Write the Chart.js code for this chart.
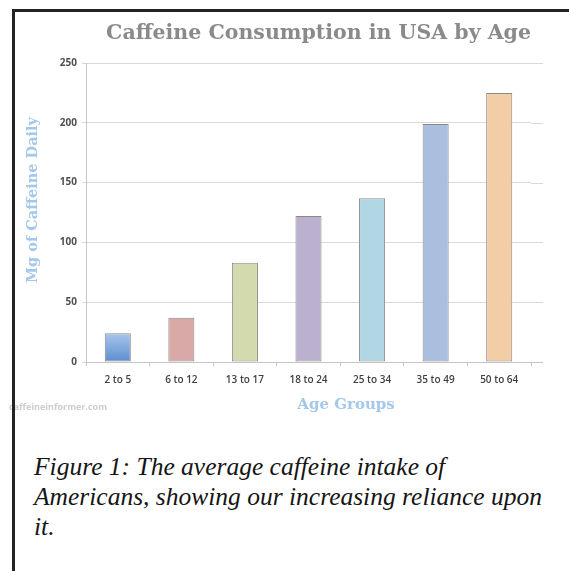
<!DOCTYPE html>
<html>
<head>
<meta charset="utf-8">
<script src="https://cdn.jsdelivr.net/npm/chart.js@4/dist/chart.umd.min.js"></script>
<style>
  html, body { margin: 0; padding: 0; background: #fff; width: 569px; height: 571px; overflow: hidden; }
  #wrap { position: relative; width: 569px; height: 571px; }
  #chart { position: absolute; left: 0; top: 0; }
  .rule { position: absolute; background: #232323; z-index: 2; }
  #caption {
    position: absolute; left: 34px; top: 452px;
    font-family: "Liberation Serif", "Times New Roman", serif;
    font-style: italic; font-size: 25.5px; line-height: 30px; color: #151515;
    white-space: nowrap;
  }
</style>
</head>
<body>
<div id="wrap">
  <canvas id="chart" width="569" height="420"></canvas>
  <div class="rule" style="left:12px; top:9px; width:3px; height:562px;"></div>
  <div class="rule" style="left:12px; top:9px; width:557px; height:3px;"></div>
  <div id="caption">Figure 1: The average caffeine intake of<br>Americans, showing our increasing reliance upon<br>it.</div>
</div>
<script>
// Age groups and average daily caffeine intake (mg)
const ageGroups = ['2 to 5', '6 to 12', '13 to 17', '18 to 24', '25 to 34', '35 to 49', '50 to 64'];
const caffeineMg = [24, 37, 83, 122, 137, 199, 225];
const yTickMax = 250;
const yTickStep = 50;

const barFills = ['#7fa6dc', '#d9a9a7', '#d3dbae', '#bbb1cf', '#b1d7e5', '#aabfdf', '#f3cda6'];

const slab = '"DejaVu Serif", serif';
const sans = '"Open Sans", "Liberation Sans", sans-serif';

// First bar is shaded light-to-dark blue from top to base
function barFill(ctx) {
  const i = ctx.dataIndex;
  const chart = ctx.chart;
  if (i === 0 && chart.chartArea && chart.scales.y) {
    const y = chart.scales.y;
    const g = chart.ctx.createLinearGradient(0, y.getPixelForValue(caffeineMg[0]), 0, y.getPixelForValue(0));
    g.addColorStop(0, '#a9c5ea');
    g.addColorStop(1, '#5a8ed0');
    return g;
  }
  return barFills[i];
}

// Gridlines continue a little past the last category; axis captions and site credit
const decorations = {
  id: 'decorations',
  beforeDatasetsDraw(chart) {
    const { ctx, chartArea, scales } = chart;
    ctx.save();
    ctx.lineWidth = 1;
    scales.y.ticks.forEach(t => {
      const py = Math.round(scales.y.getPixelForValue(t.value)) + 0.5;
      ctx.strokeStyle = t.value === 0 ? '#c4c4c4' : '#d9d9d9';
      ctx.beginPath();
      ctx.moveTo(chartArea.right, py);
      ctx.lineTo(chartArea.right + 12, py);
      ctx.stroke();
    });
    ctx.restore();
  },
  afterDraw(chart) {
    const { ctx } = chart;
    ctx.save();
    ctx.fillStyle = '#a3c8ec';
    ctx.textAlign = 'center';
    ctx.textBaseline = 'middle';
    ctx.font = 'bold 15px ' + slab;
    ctx.fillText('Age Groups', 346, 405);
    ctx.translate(33, 200);
    ctx.rotate(-Math.PI / 2);
    ctx.font = 'bold 14.5px ' + slab;
    ctx.fillText('Mg of Caffeine Daily', 0, 0);
    ctx.restore();

    ctx.save();
    ctx.fillStyle = '#cdcdcd';
    ctx.textAlign = 'left';
    ctx.textBaseline = 'middle';
    ctx.font = 'bold 9px ' + sans;
    ctx.fillText('caffeineinformer.com', 9, 407);
    ctx.restore();
  }
};

new Chart(document.getElementById('chart'), {
  type: 'bar',
  data: {
    labels: ageGroups,
    datasets: [{
      data: caffeineMg,
      backgroundColor: barFill,
      borderColor: '#8a8a8a',
      borderWidth: 1,
      borderSkipped: false,
      barPercentage: 0.41,
      categoryPercentage: 1
    }]
  },
  options: {
    responsive: false,
    animation: false,
    devicePixelRatio: 1,
    layout: { padding: { left: 15, right: 38, top: 0, bottom: 0 } },
    plugins: {
      legend: { display: false },
      tooltip: { enabled: false },
      title: {
        display: true,
        text: 'Caffeine Consumption in USA by Age',
        align: 'end',
        color: '#8a8a8a',
        font: { family: slab, size: 20.5, weight: 'bold', lineHeight: 1.2 },
        padding: { top: 21, bottom: 17.4 }
      }
    },
    scales: {
      x: {
        grid: { display: true, drawOnChartArea: false, drawTicks: true, tickLength: 4, color: '#c4c4c4', offset: true },
        border: { color: '#c4c4c4' },
        ticks: { color: '#3f3f3f', padding: 8, font: { family: sans, size: 10, weight: '600' }, maxRotation: 0 },
        afterFit(scale) { scale.height = 58; }
      },
      y: {
        min: 0,
        max: yTickMax,
        grid: { color: '#d9d9d9', tickLength: 4 },
        border: { color: '#c4c4c4' },
        ticks: { stepSize: yTickStep, color: '#505050', padding: 5, font: { family: sans, size: 10, weight: 'bold' } },
        afterFit(scale) { scale.width = 71; }
      }
    }
  },
  plugins: [decorations]
});
</script>
</body>
</html>
